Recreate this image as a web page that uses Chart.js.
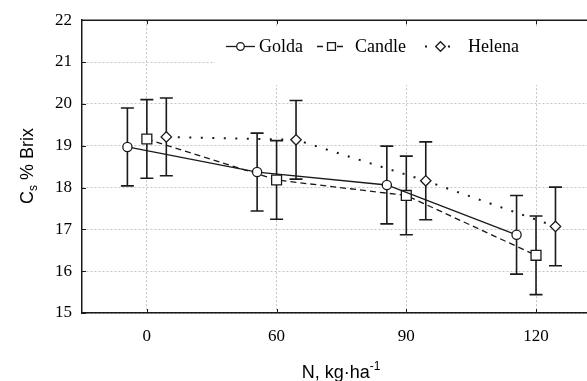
<!DOCTYPE html>
<html>
<head>
<meta charset="utf-8">
<script src="https://cdn.jsdelivr.net/npm/chart.js@4/dist/chart.umd.min.js"></script>
<style>
  html, body { margin: 0; padding: 0; background: #fff; overflow: hidden; }
  canvas { display: block; }
</style>
</head>
<body>
<canvas id="chart" width="587" height="381"></canvas>
<script>
// N rate levels (category axis) and y ticks
const nLevels = ['0', '60', '90', '120'];
const yTicks = [15, 16, 17, 18, 19, 20, 21, 22];

// mean Cs % Brix per cultivar, with error bar half-widths
const golda = [18.97, 18.37, 18.06, 16.87];
const goldaErr = [0.93, 0.93, 0.93, 0.94];
const candle = [19.16, 18.18, 17.81, 16.38];
const candleErr = [0.94, 0.94, 0.94, 0.94];
const helena = [19.21, 19.14, 18.16, 17.07];
const helenaErr = [0.93, 0.94, 0.93, 0.94];

const seriesNames = ['Golda', 'Candle', 'Helena'];

const DODGE = 0.15;
const INK = '#1a1a1a';
const SERIF = '"Liberation Serif", "Times New Roman", serif';
const SANS = '"Liberation Sans", Arial, sans-serif';

function toPoints(values, shift) {
    return values.map((v, i) => ({ x: i + shift, y: v }));
}

const seriesErr = [goldaErr, candleErr, helenaErr];

const errorBars = {
    id: 'errorBars',
    beforeDatasetsDraw(chart) {
        const ctx = chart.ctx;
        const xs = chart.scales.x, ys = chart.scales.y;
        ctx.save();
        ctx.strokeStyle = INK;
        ctx.lineWidth = 1.6;
        chart.data.datasets.forEach((ds, d) => {
            ds.data.forEach((p, i) => {
                const e = seriesErr[d][i];
                const x = xs.getPixelForValue(p.x);
                const y1 = ys.getPixelForValue(p.y + e);
                const y2 = ys.getPixelForValue(p.y - e);
                ctx.beginPath();
                ctx.moveTo(x, y1); ctx.lineTo(x, y2);
                ctx.moveTo(x - 6.5, y1); ctx.lineTo(x + 6.5, y1);
                ctx.moveTo(x - 6.5, y2); ctx.lineTo(x + 6.5, y2);
                ctx.stroke();
            });
        });
        ctx.restore();
    }
};

const frame = {
    id: 'frame',
    beforeDatasetsDraw(chart) {
        const ctx = chart.ctx;
        const a = chart.chartArea;
        const xs = chart.scales.x, ys = chart.scales.y;
        ctx.save();
        // legend box covers the grid
        ctx.fillStyle = '#fff';
        ctx.fillRect(215, 27, a.right - 215, 58);

        // top border and inner ticks
        ctx.strokeStyle = INK;
        ctx.lineWidth = 1.5;
        ctx.beginPath();
        ctx.moveTo(a.left - 0.75, a.top); ctx.lineTo(a.right, a.top);
        ctx.stroke();
        ctx.lineWidth = 1;
        ctx.beginPath();
        xs.ticks.forEach(t => {
            const x = Math.round(xs.getPixelForValue(t.value)) + 0.5;
            ctx.moveTo(x, a.top); ctx.lineTo(x, a.top + 4);
            ctx.moveTo(x, a.bottom); ctx.lineTo(x, a.bottom - 4);
        });
        ys.ticks.forEach(t => {
            const y = Math.round(ys.getPixelForValue(t.value)) + 0.5;
            ctx.moveTo(a.left, y); ctx.lineTo(a.left + 4, y);
        });
        ctx.stroke();

        // legend
        const ly = 46.5;
        const items = [
            { x0: 226, x1: 255, cx: 240.5, tx: 259, ds: chart.data.datasets[0], r: 3.8 },
            { x0: 317, x1: 346, cx: 331.5, tx: 355, ds: chart.data.datasets[1], r: 5.6 },
            { x0: 425, x1: 454, cx: 440.5, tx: 468, ds: chart.data.datasets[2], r: 4.8 },
        ];
        items.forEach((it, k) => {
            ctx.save();
            ctx.strokeStyle = INK;
            ctx.lineWidth = it.ds.borderWidth;
            ctx.setLineDash(it.ds.borderDash || []);
            ctx.beginPath();
            ctx.moveTo(it.x0, ly); ctx.lineTo(it.x1, ly);
            ctx.stroke();
            ctx.setLineDash([]);
            ctx.fillStyle = '#fff';
            ctx.lineWidth = 1.3;
            Chart.helpers.drawPoint(ctx, { pointStyle: it.ds.pointStyle, radius: it.r, borderWidth: 1.3 }, it.cx, ly);
            ctx.fillStyle = '#000';
            ctx.font = '18px ' + SERIF;
            ctx.textBaseline = 'middle';
            ctx.fillText(seriesNames[k], it.tx, ly + 1);
            ctx.restore();
        });
        ctx.restore();
    },
    afterDraw(chart) {
        const ctx = chart.ctx;
        ctx.save();
        ctx.fillStyle = '#000';
        // x title: N, kg·ha^-1
        ctx.font = '18px ' + SANS;
        const main = 'N, kg\u00b7ha';
        const supFont = '12px ' + SANS;
        const w1 = ctx.measureText(main).width;
        ctx.font = supFont;
        const w2 = ctx.measureText('-1').width;
        let x = 341 - (w1 + w2) / 2;
        ctx.font = '18px ' + SANS;
        ctx.textBaseline = 'alphabetic';
        ctx.fillText(main, x, 378);
        ctx.font = supFont;
        ctx.fillText('-1', x + w1, 370);

        // y title: Cs % Brix, rotated
        ctx.translate(33, 166);
        ctx.rotate(-Math.PI / 2);
        ctx.font = '18px ' + SANS;
        const wc = ctx.measureText('C').width;
        const wr = ctx.measureText(' % Brix').width;
        ctx.font = '12px ' + SANS;
        const ws = ctx.measureText('s').width;
        let s = -(wc + ws + wr) / 2;
        ctx.font = '18px ' + SANS;
        ctx.fillText('C', s, 0);
        ctx.font = '12px ' + SANS;
        ctx.fillText('s', s + wc, 4);
        ctx.font = '18px ' + SANS;
        ctx.fillText(' % Brix', s + wc + ws, 0);
        ctx.restore();
    }
};

new Chart(document.getElementById('chart'), {
    type: 'line',
    data: {
        datasets: [
            {
                label: seriesNames[0],
                data: toPoints(golda, -DODGE),
                borderColor: INK,
                borderWidth: 1.3,
                pointStyle: 'circle',
                pointRadius: 4.6,
                pointBackgroundColor: '#fff',
                pointBorderColor: INK,
                pointBorderWidth: 1.3,
            },
            {
                label: seriesNames[1],
                data: toPoints(candle, 0),
                borderColor: INK,
                borderWidth: 1.3,
                borderDash: [6, 4],
                pointStyle: 'rect',
                pointRadius: 7,
                pointBackgroundColor: '#fff',
                pointBorderColor: INK,
                pointBorderWidth: 1.3,
            },
            {
                label: seriesNames[2],
                data: toPoints(helena, DODGE),
                borderColor: INK,
                borderWidth: 2,
                borderDash: [2, 9.5],
                pointStyle: 'rectRot',
                pointRadius: 5.2,
                pointBackgroundColor: '#fff',
                pointBorderColor: INK,
                pointBorderWidth: 1.3,
            },
        ],
    },
    options: {
        responsive: false,
        animation: false,
        layout: { autoPadding: false, padding: { top: 20, left: 0, right: 0, bottom: 0 } },
        plugins: {
            legend: { display: false },
            tooltip: { enabled: false },
        },
        elements: { line: { tension: 0, fill: false } },
        scales: {
            x: {
                type: 'linear',
                min: -0.5,
                max: 3.393,
                afterBuildTicks: axis => {
                    axis.ticks = nLevels.map((_, i) => ({ value: i }));
                },
                afterFit: axis => { axis.height = 68; },
                ticks: {
                    callback: v => nLevels[v],
                    font: { family: SERIF, size: 17 },
                    color: '#000',
                    padding: 13,
                    maxRotation: 0,
                },
                grid: { color: '#c4c4c4', lineWidth: 1, drawTicks: false },
                border: { color: INK, width: 1.5, dash: [2, 2] },
            },
            y: {
                min: 15,
                max: 22,
                afterBuildTicks: axis => {
                    axis.ticks = yTicks.map(v => ({ value: v }));
                },
                afterFit: axis => { axis.width = 82; },
                ticks: {
                    font: { family: SERIF, size: 17 },
                    color: '#000',
                    padding: 10,
                },
                grid: { color: '#c4c4c4', lineWidth: 1, drawTicks: false },
                border: { color: INK, width: 1.5, dash: [2, 2] },
            },
        },
    },
    plugins: [errorBars, frame],
});
</script>
</body>
</html>
